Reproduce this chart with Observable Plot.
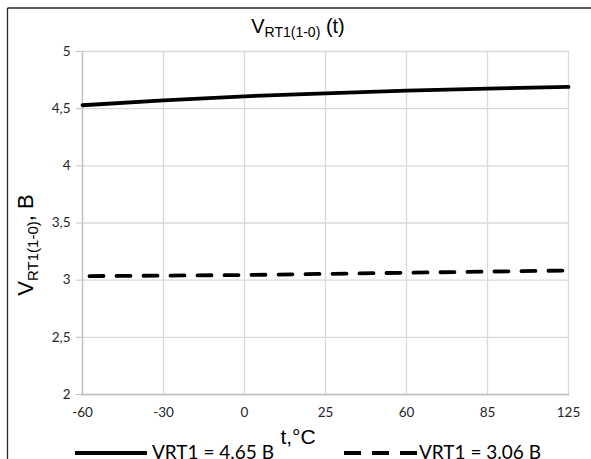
<!DOCTYPE html>
<html><head><meta charset="utf-8">
<script src="https://cdn.jsdelivr.net/npm/d3@7"></script>
<script src="https://cdn.jsdelivr.net/npm/@observablehq/plot@0.6"></script>
<style>body{margin:0;background:#fff} svg{display:block}</style>
</head><body><div id="chart"></div>
<script>
const temps = ["-60","-30","0","25","60","85","125"];
const vrtHigh = [4.53, 4.573, 4.608, 4.634, 4.657, 4.675, 4.69];
const vrtLow = [3.035, 3.04, 3.045, 3.055, 3.065, 3.075, 3.085];
const yTicks = [2, 2.5, 3, 3.5, 4, 4.5, 5];
const seriesNames = ["VRT1 = 4.65 В", "VRT1 = 3.06 В"];
const titleMain = "V", titleSub = "RT1(1-0)", titleTail = " (t)";
const yLabelMain = "V", yLabelSub = "RT1(1-0)", yLabelTail = ", В";
const xLabel = "t,°C";

const rows = temps.map((t, i) => ({t, high: vrtHigh[i], low: vrtLow[i]}));

const W = 591, H = 459;
const chart = Plot.plot({
  width: W, height: H,
  marginLeft: 81, marginRight: 22, marginTop: 51, marginBottom: 65,
  style: {fontFamily: "Lato, sans-serif", fontSize: "13.5px", color: "#262626", background: "#fff"},
  x: {type: "point", domain: temps, padding: 0, label: null},
  y: {domain: [2, 5], label: null},
  marks: [
    Plot.gridX(temps, {stroke: "#d9d9d9", strokeOpacity: 1, strokeWidth: 1.3}),
    Plot.gridY(yTicks, {stroke: "#d9d9d9", strokeOpacity: 1, strokeWidth: 1.3}),
    Plot.ruleX([temps[0]], {stroke: "#bfbfbf", strokeWidth: 1.3}),
    Plot.ruleY([2], {stroke: "#bfbfbf", strokeWidth: 1.3}),
    Plot.axisY(yTicks, {tickSize: 5, tickPadding: 6, stroke: "#bfbfbf", fill: "#262626",
      tickFormat: d => String(d).replace(".", ","), fontSize: 13.5, label: null}),
    Plot.axisX(temps, {tickSize: 0, tickPadding: 13, fill: "#262626", fontSize: 13.5, label: null}),
    Plot.line(rows, {x: "t", y: "high", stroke: "#000", strokeWidth: 3.8}),
    Plot.line(rows, {x: "t", y: "low", stroke: "#000", strokeWidth: 3.8,
      strokeDasharray: "14,13", strokeDashoffset: -7})
  ]
});
document.getElementById("chart").append(chart);

const svg = d3.select(chart);
// chart border (left and top visible)
svg.append("line").attr("x1", 7.5).attr("y1", 8).attr("x2", W).attr("y2", 8)
  .attr("stroke", "#262626").attr("stroke-width", 1.3);
svg.append("line").attr("x1", 7.5).attr("y1", 8).attr("x2", 7.5).attr("y2", H)
  .attr("stroke", "#262626").attr("stroke-width", 1.3);

// title
const title = svg.append("text").attr("x", 298).attr("y", 33).attr("text-anchor", "middle")
  .attr("font-family", "'Liberation Sans', Arial, sans-serif").attr("font-size", 20).attr("fill", "#000");
title.append("tspan").text(titleMain);
title.append("tspan").attr("font-size", 14).attr("dy", 4).text(titleSub);
title.append("tspan").attr("dy", -4).text(titleTail);

// y label
const yl = svg.append("text").attr("transform", "translate(33,245) rotate(-90)").attr("text-anchor", "middle")
  .attr("font-family", "'Liberation Sans', Arial, sans-serif").attr("font-size", 22).attr("fill", "#000");
yl.append("tspan").text(yLabelMain);
yl.append("tspan").attr("font-size", 15).attr("dy", 5).text(yLabelSub);
yl.append("tspan").attr("dy", -5).text(yLabelTail);

// x label
svg.append("text").attr("x", 298).attr("y", 444).attr("text-anchor", "middle")
  .attr("font-family", "'Liberation Sans', Arial, sans-serif").attr("font-size", 21).attr("fill", "#000")
  .text(xLabel);

// legend
const legend = [
  {x0: 75, x1: 147, tx: 152, dash: null, name: seriesNames[0]},
  {x0: 344, x1: 417, tx: 419, dash: "17,11", name: seriesNames[1]}
];
legend.forEach(l => {
  const ln = svg.append("line").attr("x1", l.x0).attr("x2", l.x1).attr("y1", 453).attr("y2", 453)
    .attr("stroke", "#000").attr("stroke-width", 4);
  if (l.dash) ln.attr("stroke-dasharray", l.dash);
  svg.append("text").attr("x", l.tx).attr("y", 458.5).attr("text-anchor", "start")
    .attr("font-family", "Lato, sans-serif")
    .attr("font-size", 19).attr("fill", "#000").text(l.name);
});
</script>
</body></html>
